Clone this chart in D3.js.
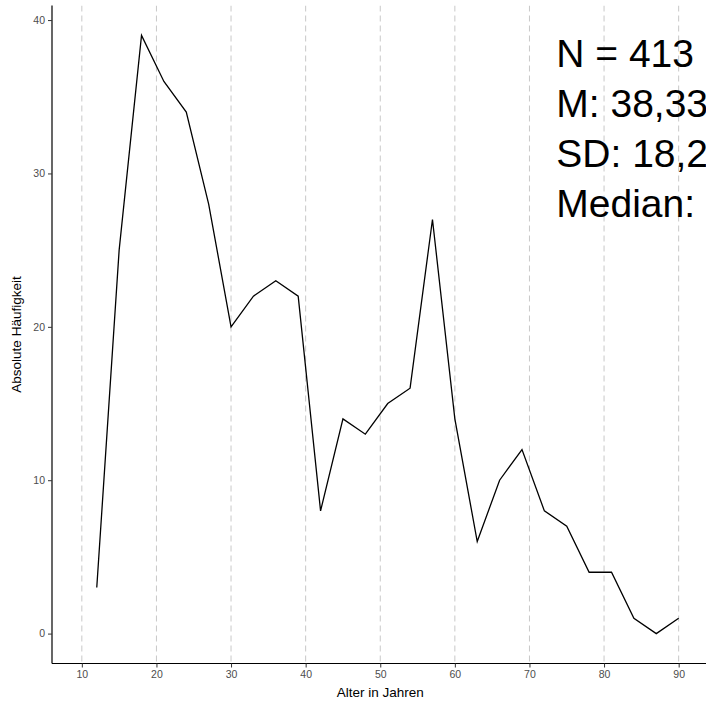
<!DOCTYPE html>
<html>
<head>
<meta charset="utf-8">
<script src="https://cdn.jsdelivr.net/npm/d3@7"></script>
<style>
  html, body { margin: 0; padding: 0; background: #fff; }
  svg { display: block; }
  text { font-family: "Liberation Sans", Arial, sans-serif; }
</style>
</head>
<body>
<svg id="chart" width="706" height="707"></svg>
<script>
// ---- data ----
const ages = [12, 15, 18, 21, 24, 27, 30, 33, 36, 39, 42, 45, 48, 51, 54, 57, 60, 63, 66, 69, 72, 75, 78, 81, 84, 87, 90];
const counts = [3, 25, 39, 36, 34, 28, 20, 22, 23, 22, 8, 14, 13, 15, 16, 27, 14, 6, 10, 12, 8, 7, 4, 4, 1, 0, 1];
const xTicks = [10, 20, 30, 40, 50, 60, 70, 80, 90];
const yTicks = [0, 10, 20, 30, 40];
const statLines = ["N = 413", "M: 38,33", "SD: 18,2", "Median:"];
const xTitle = "Alter in Jahren";
const yTitle = "Absolute Häufigkeit";

// ---- layout ----
const W = 706, H = 707;
const panel = { left: 52, right: 708.5, top: 5.5, bottom: 663.5 };

const svg = d3.select("#chart");

const x = d3.scaleLinear().domain([6, 94]).range([panel.left, panel.right]);
const y = d3.scaleLinear().domain([-1.95, 40.95]).range([panel.bottom, panel.top]);

// clip for panel contents
svg.append("defs").append("clipPath").attr("id", "panelClip")
  .append("rect")
  .attr("x", panel.left).attr("y", panel.top)
  .attr("width", panel.right - panel.left).attr("height", panel.bottom - panel.top);

const content = svg.append("g").attr("clip-path", "url(#panelClip)");

// vertical dashed grid lines
content.selectAll("line.grid")
  .data(xTicks)
  .join("line")
  .attr("class", "grid")
  .attr("x1", d => x(d)).attr("x2", d => x(d))
  .attr("y1", panel.top).attr("y2", panel.bottom)
  .attr("stroke", "#c8c8c8")
  .attr("stroke-width", 1)
  .attr("stroke-dasharray", "6,4");

// line
const line = d3.line()
  .x((d, i) => x(ages[i]))
  .y(d => y(d));

content.append("path")
  .datum(counts)
  .attr("d", line)
  .attr("fill", "none")
  .attr("stroke", "#000")
  .attr("stroke-width", 1.3)
  .attr("stroke-linejoin", "miter");

// annotation text
content.append("g")
  .selectAll("text")
  .data(statLines)
  .join("text")
  .attr("x", x(73.6))
  .attr("y", (d, i) => 66.5 + i * 50)
  .attr("font-size", 39)
  .attr("fill", "#000")
  .text(d => d);

// axes
const xAxis = d3.axisBottom(x).tickValues(xTicks).tickSize(4).tickPadding(3).tickSizeOuter(0);
const yAxis = d3.axisLeft(y).tickValues(yTicks).tickSize(4).tickPadding(3).tickSizeOuter(0);

const gx = svg.append("g").attr("transform", `translate(0,${panel.bottom})`).call(xAxis);
const gy = svg.append("g").attr("transform", `translate(${panel.left},0)`).call(yAxis);

[gx, gy].forEach(g => {
  g.select(".domain").attr("stroke", "#000").attr("stroke-width", 1.2);
  g.selectAll(".tick line").attr("stroke", "#333").attr("stroke-width", 1);
  g.selectAll(".tick text")
    .attr("fill", "#4d4d4d")
    .attr("font-size", 10.5)
    .attr("font-family", "'Liberation Sans', Arial, sans-serif");
});
// extend axis lines across the panel
gx.select(".domain").attr("d", `M${panel.left},0H${panel.right}`);
gy.select(".domain").attr("d", `M0,${panel.top}V${panel.bottom}`);

// axis titles
svg.append("text")
  .attr("x", (panel.left + panel.right) / 2)
  .attr("y", 697)
  .attr("text-anchor", "middle")
  .attr("font-size", 13.5)
  .attr("fill", "#000")
  .text(xTitle);

svg.append("text")
  .attr("transform", `translate(21,${(panel.top + panel.bottom) / 2}) rotate(-90)`)
  .attr("text-anchor", "middle")
  .attr("font-size", 13.5)
  .attr("fill", "#000")
  .text(yTitle);
</script>
</body>
</html>
